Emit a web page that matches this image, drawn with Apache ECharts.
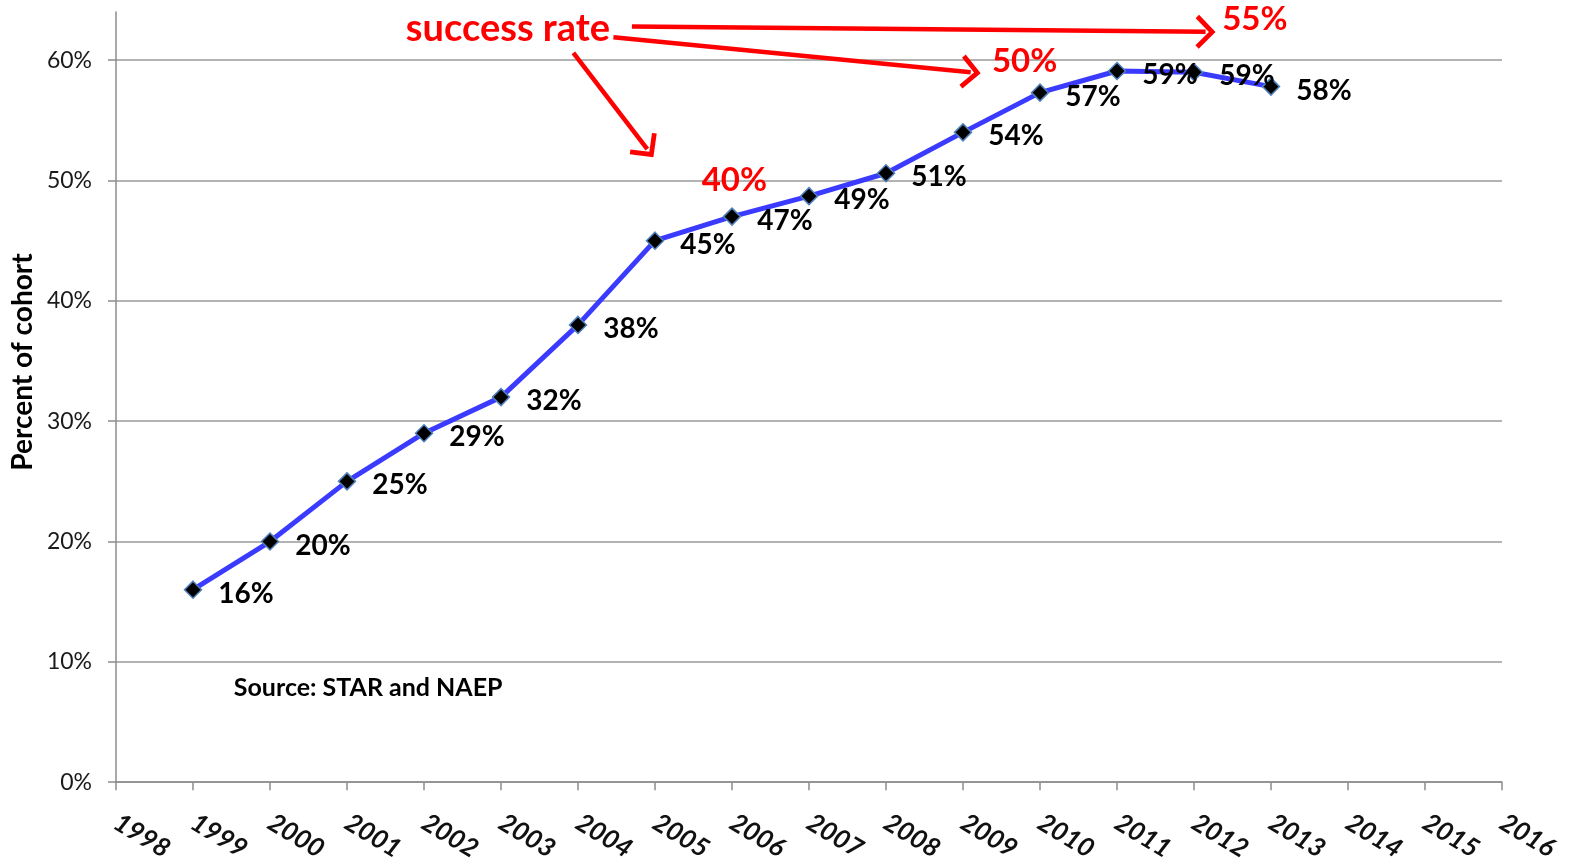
<!DOCTYPE html>
<html>
<head>
<meta charset="utf-8">
<script src="https://cdn.jsdelivr.net/npm/echarts@6/dist/echarts.min.js"></script>
<style>html,body{margin:0;padding:0;background:#fff}#c{width:1577px;height:864px}</style>
</head>
<body>
<div id="c"></div>
<script>
const years = [1999,2000,2001,2002,2003,2004,2005,2006,2007,2008,2009,2010,2011,2012,2013];
const values = [16,20,25,29,32,38,45,47,48.7,50.6,54,57.3,59.1,59,57.8];
const yTicks = [0,10,20,30,40,50,60];
const xRange = [1998,2016];
const yRange = [0,64];
const annotationTexts = [
  {text:'success rate', x:2003.09, y:62.6, size:38},
  {text:'40%', x:2006.03, y:50.0, size:33},
  {text:'50%', x:2009.80, y:59.9, size:33},
  {text:'55%', x:2012.79, y:63.4, size:33}
];
const arrows = [
  {from:[2003.94,60.6], to:[2004.90,52.6]},
  {from:[2004.46,61.9], to:[2009.10,59.0]},
  {from:[2004.70,62.8], to:[2012.15,62.35]}
];
const sourceNote = {text:'Source: STAR and NAEP', x:1999.53, y:7.85};

const chart = echarts.init(document.getElementById('c'));
const FONT = 'Lato';
const chevron = 'path://M0,0 L15,15 L12,18 L0,6 L-12,18 L-15,15 Z';

chart.setOption({
  animation:false,
  backgroundColor:'#fff',
  grid:{left:116, right:75, top:12, bottom:81},
  xAxis:{
    type:'value', min:xRange[0], max:xRange[1], interval:1,
    axisLine:{lineStyle:{color:'#8c8c8c', width:1.5}},
    axisTick:{show:true, length:8, lineStyle:{color:'#8c8c8c', width:1.5}},
    splitLine:{show:false},
    axisLabel:{formatter:v=>String(v), rotate:-31, margin:38, fontFamily:FONT, fontStyle:'italic', fontWeight:'bold', fontSize:26, color:'#111'}
  },
  yAxis:{
    type:'value', min:yRange[0], max:yRange[1], interval:10,
    axisLine:{show:true, lineStyle:{color:'#8c8c8c', width:1.5}},
    axisTick:{show:true, length:8, inside:false, customValues:yTicks, lineStyle:{color:'#8c8c8c', width:1.5}},
    splitLine:{show:true, lineStyle:{color:'#9a9a9a', width:1.5}},
    axisLabel:{customValues:yTicks, formatter:v=>v+'%', margin:24, fontFamily:FONT, fontSize:23, color:'#1a1a1a'}
  },
  graphic:[{
    type:'text', x:23, y:362, rotation:Math.PI/2,
    style:{text:'Percent of cohort', fontFamily:FONT, fontWeight:'bold', fontSize:28, fill:'#000', textAlign:'center', textVerticalAlign:'middle'}
  }],
  series:[{
    type:'line',
    data:years.map((y,i)=>[y,values[i]]),
    lineStyle:{color:'#3b3bff', width:5},
    symbol:'diamond', symbolSize:17,
    itemStyle:{color:'#000', borderColor:'#4f81bd', borderWidth:1.5},
    label:{show:true, position:'right', distance:16, offset:[0,4], formatter:p=>Math.round(p.value[1])+'%', fontFamily:FONT, fontWeight:'bold', fontSize:28, color:'#000'},
    z:5,
    markLine:{
      silent:true, animation:false,
      symbol:['none', chevron], symbolSize:[34,20],
      lineStyle:{color:'#ff0000', width:4.5, type:'solid'},
      label:{show:false},
      data:arrows.map(a=>[{coord:a.from},{coord:a.to}])
    },
    markPoint:{
      silent:true, animation:false,
      symbol:'circle', symbolSize:0,
      data:annotationTexts.map(a=>({coord:[a.x,a.y], name:a.text, label:{show:true, position:'inside', formatter:a.text, fontFamily:FONT, fontWeight:'bold', fontSize:a.size, color:'#ff0000'}}))
        .concat([{coord:[sourceNote.x, sourceNote.y], name:sourceNote.text, label:{show:true, position:'right', distance:0, formatter:sourceNote.text, fontFamily:FONT, fontWeight:'bold', fontSize:25, color:'#000'}}])
    }
  }]
});
</script>
</body>
</html>
